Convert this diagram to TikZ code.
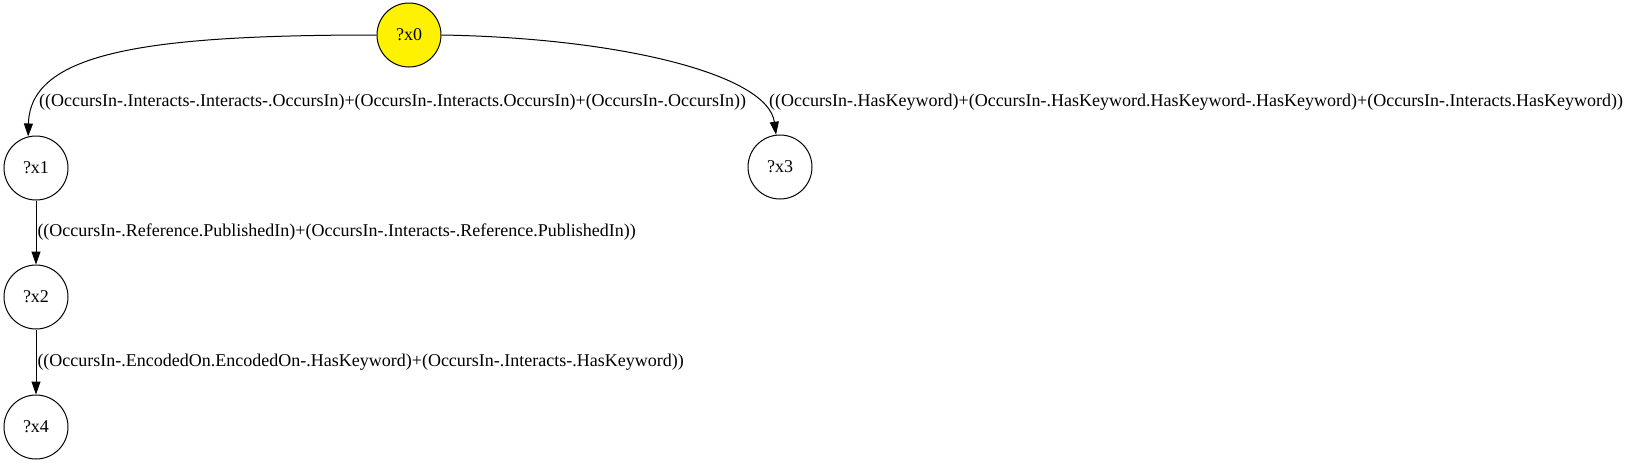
\documentclass[tikz,border=0pt]{standalone}
\usepackage{fontspec}
\setmainfont{Liberation Serif}
\usepackage{tikz}
\usetikzlibrary{arrows.meta, positioning}

\begin{document}
\begin{tikzpicture}[
        x=1pt, y=-1pt,
        var/.style={draw, circle, line width=1pt, minimum size=64pt, inner sep=0pt},
        root/.style={var, fill=yellow},
        edge/.style={-{Triangle[length=13pt, width=9pt]}, line width=1pt},
        elabel/.style={inner sep=1pt},
        font=\fontsize{18}{21}\selectfont
    ]
    \useasboundingbox (0,0) rectangle (1633,464);

    \node[root] (x0) at (409,35) {?x0};
    \foreach \Name/\Pos in {x1/{(36,168)}, x2/{(36,297)}, x3/{(780,167)}, x4/{(36,427)}}
        \node[var] (\Name) at \Pos {?\Name};

    \draw[edge] (x0.west) .. controls +(-227,0) and +(2,-85) .. (x1.104);
    \node[elabel, anchor=base west] (l1) at (38,106)
        {((OccursIn-.Interacts-.Interacts-.OccursIn)+(OccursIn-.Interacts.OccursIn)+(OccursIn-.OccursIn))};

    \draw[edge] (x0.east) .. controls +(180,3) and +(-8,-60) .. (x3.97);
    \node[elabel, anchor=base west] (l2) at (768,106)
        {((OccursIn-.HasKeyword)+(OccursIn-.HasKeyword.HasKeyword-.HasKeyword)+(OccursIn-.Interacts.HasKeyword))};

    \foreach \From/\To/\Label in {x1/x2/{((OccursIn-.Reference.PublishedIn)+(OccursIn-.Interacts-.Reference.PublishedIn))},
            x2/x4/{((OccursIn-.EncodedOn.EncodedOn-.HasKeyword)+(OccursIn-.Interacts-.HasKeyword))}}
        \draw[edge] (\From) -- node[elabel, right] {\Label} (\To);
\end{tikzpicture}
\end{document}
